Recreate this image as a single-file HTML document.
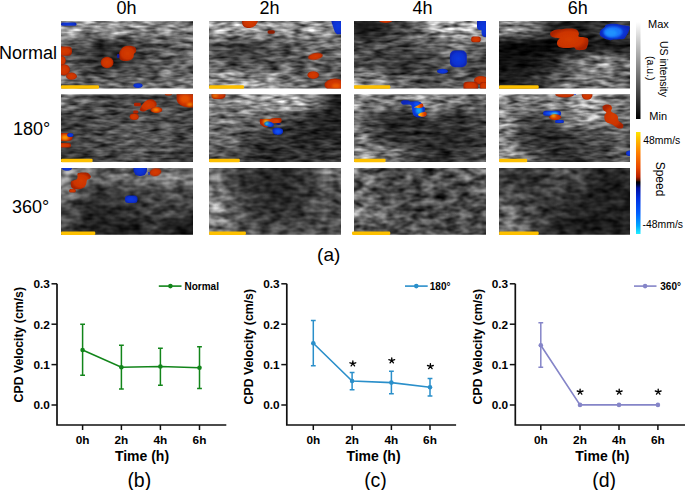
<!DOCTYPE html>
<html><head><meta charset="utf-8"><style>
html,body{margin:0;padding:0;background:#fff;overflow:hidden}
svg{display:block}
text{font-family:"Liberation Sans",sans-serif;fill:#000}
</style></head><body>
<svg width="685" height="490" viewBox="0 0 685 490">
<defs>
<clipPath id="cp00"><rect x="61" y="21" width="132" height="67.4"/></clipPath>
<filter id="np00" x="61" y="21" width="132" height="67.4" filterUnits="userSpaceOnUse" color-interpolation-filters="sRGB">
<feTurbulence type="fractalNoise" baseFrequency="0.075 0.25" numOctaves="2" seed="3" result="t"/>
<feColorMatrix in="t" type="matrix" values="1 0 0 0 0 1 0 0 0 0 1 0 0 0 0 0 0 0 0 1" result="g"/>
<feGaussianBlur in="SourceGraphic" stdDeviation="4.5" result="s"/>
<feComposite in="s" in2="g" operator="arithmetic" k1="1.8" k2="0.09999999999999998" k3="0.15" k4="-0.075"/>
</filter>
<clipPath id="cp01"><rect x="209" y="21" width="132" height="67.4"/></clipPath>
<filter id="np01" x="209" y="21" width="132" height="67.4" filterUnits="userSpaceOnUse" color-interpolation-filters="sRGB">
<feTurbulence type="fractalNoise" baseFrequency="0.075 0.25" numOctaves="2" seed="10" result="t"/>
<feColorMatrix in="t" type="matrix" values="1 0 0 0 0 1 0 0 0 0 1 0 0 0 0 0 0 0 0 1" result="g"/>
<feGaussianBlur in="SourceGraphic" stdDeviation="4.5" result="s"/>
<feComposite in="s" in2="g" operator="arithmetic" k1="1.8" k2="0.09999999999999998" k3="0.15" k4="-0.075"/>
</filter>
<clipPath id="cp02"><rect x="354" y="21" width="132" height="67.4"/></clipPath>
<filter id="np02" x="354" y="21" width="132" height="67.4" filterUnits="userSpaceOnUse" color-interpolation-filters="sRGB">
<feTurbulence type="fractalNoise" baseFrequency="0.075 0.25" numOctaves="2" seed="17" result="t"/>
<feColorMatrix in="t" type="matrix" values="1 0 0 0 0 1 0 0 0 0 1 0 0 0 0 0 0 0 0 1" result="g"/>
<feGaussianBlur in="SourceGraphic" stdDeviation="4.5" result="s"/>
<feComposite in="s" in2="g" operator="arithmetic" k1="1.8" k2="0.09999999999999998" k3="0.15" k4="-0.075"/>
</filter>
<clipPath id="cp03"><rect x="499" y="21" width="131" height="67.4"/></clipPath>
<filter id="np03" x="499" y="21" width="131" height="67.4" filterUnits="userSpaceOnUse" color-interpolation-filters="sRGB">
<feTurbulence type="fractalNoise" baseFrequency="0.075 0.25" numOctaves="2" seed="24" result="t"/>
<feColorMatrix in="t" type="matrix" values="1 0 0 0 0 1 0 0 0 0 1 0 0 0 0 0 0 0 0 1" result="g"/>
<feGaussianBlur in="SourceGraphic" stdDeviation="4.5" result="s"/>
<feComposite in="s" in2="g" operator="arithmetic" k1="1.8" k2="0.09999999999999998" k3="0.15" k4="-0.075"/>
</filter>
<clipPath id="cp10"><rect x="61" y="94.2" width="132" height="67.8"/></clipPath>
<filter id="np10" x="61" y="94.2" width="132" height="67.8" filterUnits="userSpaceOnUse" color-interpolation-filters="sRGB">
<feTurbulence type="fractalNoise" baseFrequency="0.075 0.25" numOctaves="2" seed="31" result="t"/>
<feColorMatrix in="t" type="matrix" values="1 0 0 0 0 1 0 0 0 0 1 0 0 0 0 0 0 0 0 1" result="g"/>
<feGaussianBlur in="SourceGraphic" stdDeviation="4.5" result="s"/>
<feComposite in="s" in2="g" operator="arithmetic" k1="1.8" k2="0.09999999999999998" k3="0.15" k4="-0.075"/>
</filter>
<clipPath id="cp11"><rect x="209" y="94.2" width="132" height="67.8"/></clipPath>
<filter id="np11" x="209" y="94.2" width="132" height="67.8" filterUnits="userSpaceOnUse" color-interpolation-filters="sRGB">
<feTurbulence type="fractalNoise" baseFrequency="0.075 0.25" numOctaves="2" seed="38" result="t"/>
<feColorMatrix in="t" type="matrix" values="1 0 0 0 0 1 0 0 0 0 1 0 0 0 0 0 0 0 0 1" result="g"/>
<feGaussianBlur in="SourceGraphic" stdDeviation="4.5" result="s"/>
<feComposite in="s" in2="g" operator="arithmetic" k1="1.8" k2="0.09999999999999998" k3="0.15" k4="-0.075"/>
</filter>
<clipPath id="cp12"><rect x="354" y="94.2" width="132" height="67.8"/></clipPath>
<filter id="np12" x="354" y="94.2" width="132" height="67.8" filterUnits="userSpaceOnUse" color-interpolation-filters="sRGB">
<feTurbulence type="fractalNoise" baseFrequency="0.075 0.25" numOctaves="2" seed="45" result="t"/>
<feColorMatrix in="t" type="matrix" values="1 0 0 0 0 1 0 0 0 0 1 0 0 0 0 0 0 0 0 1" result="g"/>
<feGaussianBlur in="SourceGraphic" stdDeviation="4.5" result="s"/>
<feComposite in="s" in2="g" operator="arithmetic" k1="1.8" k2="0.09999999999999998" k3="0.15" k4="-0.075"/>
</filter>
<clipPath id="cp13"><rect x="499" y="94.2" width="131" height="67.8"/></clipPath>
<filter id="np13" x="499" y="94.2" width="131" height="67.8" filterUnits="userSpaceOnUse" color-interpolation-filters="sRGB">
<feTurbulence type="fractalNoise" baseFrequency="0.075 0.25" numOctaves="2" seed="52" result="t"/>
<feColorMatrix in="t" type="matrix" values="1 0 0 0 0 1 0 0 0 0 1 0 0 0 0 0 0 0 0 1" result="g"/>
<feGaussianBlur in="SourceGraphic" stdDeviation="4.5" result="s"/>
<feComposite in="s" in2="g" operator="arithmetic" k1="1.8" k2="0.09999999999999998" k3="0.15" k4="-0.075"/>
</filter>
<clipPath id="cp20"><rect x="61" y="168" width="132" height="66.69999999999999"/></clipPath>
<filter id="np20" x="61" y="168" width="132" height="66.69999999999999" filterUnits="userSpaceOnUse" color-interpolation-filters="sRGB">
<feTurbulence type="fractalNoise" baseFrequency="0.085 0.16" numOctaves="2" seed="59" result="t"/>
<feColorMatrix in="t" type="matrix" values="1 0 0 0 0 1 0 0 0 0 1 0 0 0 0 0 0 0 0 1" result="g"/>
<feGaussianBlur in="SourceGraphic" stdDeviation="4.5" result="s"/>
<feComposite in="s" in2="g" operator="arithmetic" k1="1.5" k2="0.25" k3="0.15" k4="-0.075"/>
</filter>
<clipPath id="cp21"><rect x="209" y="168" width="132" height="66.69999999999999"/></clipPath>
<filter id="np21" x="209" y="168" width="132" height="66.69999999999999" filterUnits="userSpaceOnUse" color-interpolation-filters="sRGB">
<feTurbulence type="fractalNoise" baseFrequency="0.085 0.16" numOctaves="2" seed="101" result="t"/>
<feColorMatrix in="t" type="matrix" values="1 0 0 0 0 1 0 0 0 0 1 0 0 0 0 0 0 0 0 1" result="g"/>
<feGaussianBlur in="SourceGraphic" stdDeviation="4.5" result="s"/>
<feComposite in="s" in2="g" operator="arithmetic" k1="1.5" k2="0.25" k3="0.15" k4="-0.075"/>
</filter>
<clipPath id="cp22"><rect x="354" y="168" width="132" height="66.69999999999999"/></clipPath>
<filter id="np22" x="354" y="168" width="132" height="66.69999999999999" filterUnits="userSpaceOnUse" color-interpolation-filters="sRGB">
<feTurbulence type="fractalNoise" baseFrequency="0.085 0.16" numOctaves="2" seed="73" result="t"/>
<feColorMatrix in="t" type="matrix" values="1 0 0 0 0 1 0 0 0 0 1 0 0 0 0 0 0 0 0 1" result="g"/>
<feGaussianBlur in="SourceGraphic" stdDeviation="4.5" result="s"/>
<feComposite in="s" in2="g" operator="arithmetic" k1="2.0" k2="0.0" k3="0.15" k4="-0.075"/>
</filter>
<clipPath id="cp23"><rect x="499" y="168" width="131" height="66.69999999999999"/></clipPath>
<filter id="np23" x="499" y="168" width="131" height="66.69999999999999" filterUnits="userSpaceOnUse" color-interpolation-filters="sRGB">
<feTurbulence type="fractalNoise" baseFrequency="0.085 0.16" numOctaves="2" seed="80" result="t"/>
<feColorMatrix in="t" type="matrix" values="1 0 0 0 0 1 0 0 0 0 1 0 0 0 0 0 0 0 0 1" result="g"/>
<feGaussianBlur in="SourceGraphic" stdDeviation="4.5" result="s"/>
<feComposite in="s" in2="g" operator="arithmetic" k1="1.5" k2="0.25" k3="0.15" k4="-0.075"/>
</filter>
<radialGradient id="gr" cx="50%" cy="50%" r="50%"><stop offset="0" stop-color="#d43c00"/><stop offset="0.7" stop-color="#cc3400"/><stop offset="1" stop-color="#a82400"/></radialGradient>
<radialGradient id="gb" cx="50%" cy="50%" r="50%"><stop offset="0" stop-color="#1a70ff"/><stop offset="0.6" stop-color="#0a48e8"/><stop offset="1" stop-color="#0a28c0"/></radialGradient>
<radialGradient id="go" cx="50%" cy="50%" r="50%"><stop offset="0" stop-color="#ff9000"/><stop offset="0.6" stop-color="#f06000"/><stop offset="1" stop-color="#c03000"/></radialGradient>
<linearGradient id="gyr" x1="0" y1="0" x2="1" y2="0"><stop offset="0" stop-color="#ffd800"/><stop offset="0.35" stop-color="#ff9000"/><stop offset="0.7" stop-color="#e04000"/><stop offset="1" stop-color="#c03000"/></linearGradient>
<radialGradient id="gbd" cx="50%" cy="50%" r="50%"><stop offset="0" stop-color="#0a3ae0"/><stop offset="0.7" stop-color="#0a32d0"/><stop offset="1" stop-color="#0a26b8"/></radialGradient>
<filter id="sb" x="-20%" y="-20%" width="140%" height="140%"><feGaussianBlur stdDeviation="0.7"/></filter>
<filter id="sh" x="-50%" y="-50%" width="200%" height="200%"><feGaussianBlur stdDeviation="1"/></filter>
<linearGradient id="gray" x1="0" y1="0" x2="0" y2="1"><stop offset="0" stop-color="#fff"/><stop offset="1" stop-color="#000"/></linearGradient>
<linearGradient id="spd" x1="0" y1="0" x2="0" y2="1">
<stop offset="0" stop-color="#ffe600"/><stop offset="0.06" stop-color="#ffc400"/><stop offset="0.2" stop-color="#ff8000"/><stop offset="0.35" stop-color="#e84800"/><stop offset="0.44" stop-color="#b82000"/><stop offset="0.475" stop-color="#501000"/><stop offset="0.49" stop-color="#000000"/><stop offset="0.51" stop-color="#000020"/><stop offset="0.55" stop-color="#0010a0"/><stop offset="0.65" stop-color="#0030e0"/><stop offset="0.8" stop-color="#0060ff"/><stop offset="0.92" stop-color="#00a8ff"/><stop offset="1" stop-color="#20f0ff"/></linearGradient>
</defs>
<g clip-path="url(#cp00)">
<g filter="url(#np00)"><rect x="46.00" y="6.00" width="31.80" height="32.15" fill="rgb(154,154,154)"/><rect x="77.50" y="6.00" width="16.80" height="32.15" fill="rgb(147,147,147)"/><rect x="94.00" y="6.00" width="16.80" height="32.15" fill="rgb(140,140,140)"/><rect x="110.50" y="6.00" width="16.80" height="32.15" fill="rgb(147,147,147)"/><rect x="127.00" y="6.00" width="16.80" height="32.15" fill="rgb(140,140,140)"/><rect x="143.50" y="6.00" width="16.80" height="32.15" fill="rgb(134,134,134)"/><rect x="160.00" y="6.00" width="16.80" height="32.15" fill="rgb(127,127,127)"/><rect x="176.50" y="6.00" width="31.80" height="32.15" fill="rgb(121,121,121)"/><rect x="46.00" y="37.85" width="31.80" height="17.15" fill="rgb(94,94,94)"/><rect x="77.50" y="37.85" width="16.80" height="17.15" fill="rgb(68,68,68)"/><rect x="94.00" y="37.85" width="16.80" height="17.15" fill="rgb(48,48,48)"/><rect x="110.50" y="37.85" width="16.80" height="17.15" fill="rgb(41,41,41)"/><rect x="127.00" y="37.85" width="16.80" height="17.15" fill="rgb(55,55,55)"/><rect x="143.50" y="37.85" width="16.80" height="17.15" fill="rgb(74,74,74)"/><rect x="160.00" y="37.85" width="16.80" height="17.15" fill="rgb(94,94,94)"/><rect x="176.50" y="37.85" width="31.80" height="17.15" fill="rgb(101,101,101)"/><rect x="46.00" y="54.70" width="31.80" height="17.15" fill="rgb(88,88,88)"/><rect x="77.50" y="54.70" width="16.80" height="17.15" fill="rgb(61,61,61)"/><rect x="94.00" y="54.70" width="16.80" height="17.15" fill="rgb(41,41,41)"/><rect x="110.50" y="54.70" width="16.80" height="17.15" fill="rgb(41,41,41)"/><rect x="127.00" y="54.70" width="16.80" height="17.15" fill="rgb(61,61,61)"/><rect x="143.50" y="54.70" width="16.80" height="17.15" fill="rgb(81,81,81)"/><rect x="160.00" y="54.70" width="16.80" height="17.15" fill="rgb(94,94,94)"/><rect x="176.50" y="54.70" width="31.80" height="17.15" fill="rgb(101,101,101)"/><rect x="46.00" y="71.55" width="31.80" height="32.15" fill="rgb(107,107,107)"/><rect x="77.50" y="71.55" width="16.80" height="32.15" fill="rgb(94,94,94)"/><rect x="94.00" y="71.55" width="16.80" height="32.15" fill="rgb(88,88,88)"/><rect x="110.50" y="71.55" width="16.80" height="32.15" fill="rgb(94,94,94)"/><rect x="127.00" y="71.55" width="16.80" height="32.15" fill="rgb(101,101,101)"/><rect x="143.50" y="71.55" width="16.80" height="32.15" fill="rgb(101,101,101)"/><rect x="160.00" y="71.55" width="16.80" height="32.15" fill="rgb(107,107,107)"/><rect x="176.50" y="71.55" width="31.80" height="32.15" fill="rgb(107,107,107)"/></g>
<rect x="61" y="22.6" width="15.5" height="3.2" rx="1.5" fill="url(#gbd)" filter="url(#sb)"/>
<rect x="56" y="46.6" width="16" height="9.2" rx="4" fill="url(#gr)" filter="url(#sb)"/>
<ellipse cx="62" cy="60.5" rx="3.8" ry="4.5" fill="url(#gr)" filter="url(#sb)"/>
<ellipse cx="64" cy="69.8" rx="6" ry="5.6" fill="url(#gr)" filter="url(#sb)"/>
<ellipse cx="71.5" cy="76.2" rx="5.4" ry="3.6" fill="url(#gr)" filter="url(#sb)"/>
<path d="M119.70 51.50 C120.13 50.63 120.93 49.42 121.70 48.60 C122.47 47.78 123.32 47.07 124.30 46.60 C125.28 46.13 126.38 45.92 127.60 45.80 C128.82 45.68 130.38 45.67 131.60 45.90 C132.82 46.13 134.13 46.53 134.90 47.20 C135.67 47.87 136.10 49.02 136.20 49.90 C136.30 50.78 135.88 51.80 135.50 52.50 C135.12 53.20 134.22 53.33 133.90 54.10 C133.58 54.87 133.98 56.22 133.60 57.10 C133.22 57.98 132.48 58.80 131.60 59.40 C130.72 60.00 129.62 60.45 128.30 60.70 C126.98 60.95 125.02 61.07 123.70 60.90 C122.38 60.73 121.15 60.33 120.40 59.70 C119.65 59.07 119.42 58.08 119.20 57.10 C118.98 56.12 119.02 54.73 119.10 53.80 C119.18 52.87 119.27 52.37 119.70 51.50 Z" fill="url(#gr)" filter="url(#sb)"/>
<ellipse cx="107.1" cy="62.5" rx="6.4" ry="5.7" fill="url(#gr)" filter="url(#sb)"/>
<rect x="117" y="54.1" width="2.4" height="4" rx="0.8" fill="#0a1aa0" filter="url(#sb)"/>
<ellipse cx="138" cy="85.6" rx="4.6" ry="2.4" fill="url(#gbd)" filter="url(#sb)"/>
</g>
<rect x="61" y="85.2" width="38" height="3.5" rx="1.2" fill="#fdc000"/>
<g clip-path="url(#cp01)">
<g filter="url(#np01)"><rect x="194.00" y="6.00" width="31.80" height="32.15" fill="rgb(154,154,154)"/><rect x="225.50" y="6.00" width="16.80" height="32.15" fill="rgb(167,167,167)"/><rect x="242.00" y="6.00" width="16.80" height="32.15" fill="rgb(154,154,154)"/><rect x="258.50" y="6.00" width="16.80" height="32.15" fill="rgb(140,140,140)"/><rect x="275.00" y="6.00" width="16.80" height="32.15" fill="rgb(140,140,140)"/><rect x="291.50" y="6.00" width="16.80" height="32.15" fill="rgb(154,154,154)"/><rect x="308.00" y="6.00" width="16.80" height="32.15" fill="rgb(154,154,154)"/><rect x="324.50" y="6.00" width="31.80" height="32.15" fill="rgb(140,140,140)"/><rect x="194.00" y="37.85" width="31.80" height="17.15" fill="rgb(88,88,88)"/><rect x="225.50" y="37.85" width="16.80" height="17.15" fill="rgb(61,61,61)"/><rect x="242.00" y="37.85" width="16.80" height="17.15" fill="rgb(55,55,55)"/><rect x="258.50" y="37.85" width="16.80" height="17.15" fill="rgb(68,68,68)"/><rect x="275.00" y="37.85" width="16.80" height="17.15" fill="rgb(88,88,88)"/><rect x="291.50" y="37.85" width="16.80" height="17.15" fill="rgb(101,101,101)"/><rect x="308.00" y="37.85" width="16.80" height="17.15" fill="rgb(101,101,101)"/><rect x="324.50" y="37.85" width="31.80" height="17.15" fill="rgb(101,101,101)"/><rect x="194.00" y="54.70" width="31.80" height="17.15" fill="rgb(94,94,94)"/><rect x="225.50" y="54.70" width="16.80" height="17.15" fill="rgb(74,74,74)"/><rect x="242.00" y="54.70" width="16.80" height="17.15" fill="rgb(74,74,74)"/><rect x="258.50" y="54.70" width="16.80" height="17.15" fill="rgb(81,81,81)"/><rect x="275.00" y="54.70" width="16.80" height="17.15" fill="rgb(88,88,88)"/><rect x="291.50" y="54.70" width="16.80" height="17.15" fill="rgb(88,88,88)"/><rect x="308.00" y="54.70" width="16.80" height="17.15" fill="rgb(94,94,94)"/><rect x="324.50" y="54.70" width="31.80" height="17.15" fill="rgb(94,94,94)"/><rect x="194.00" y="71.55" width="31.80" height="32.15" fill="rgb(154,154,154)"/><rect x="225.50" y="71.55" width="16.80" height="32.15" fill="rgb(154,154,154)"/><rect x="242.00" y="71.55" width="16.80" height="32.15" fill="rgb(160,160,160)"/><rect x="258.50" y="71.55" width="16.80" height="32.15" fill="rgb(140,140,140)"/><rect x="275.00" y="71.55" width="16.80" height="32.15" fill="rgb(127,127,127)"/><rect x="291.50" y="71.55" width="16.80" height="32.15" fill="rgb(107,107,107)"/><rect x="308.00" y="71.55" width="16.80" height="32.15" fill="rgb(94,94,94)"/><rect x="324.50" y="71.55" width="31.80" height="32.15" fill="rgb(94,94,94)"/></g>
<path d="M242 18 L258 18 L258 21 Q256 27 250 28 L247 28 Q242 27 242 22 Z" fill="url(#gr)" filter="url(#sb)"/>
<rect x="267.5" y="30.2" width="7.4" height="3.5" rx="1.7" fill="#8a1c00" filter="url(#sb)"/>
<path d="M331.5 18 L345 18 L345 34.3 L337 34.3 Q334.5 33 333.8 29 L331.5 22 Z" fill="url(#gbd)" filter="url(#sb)"/>
<ellipse cx="315.4" cy="56.4" rx="7.4" ry="3.3" fill="url(#gr)" transform="rotate(-10 315.4 56.4)" filter="url(#sb)"/>
<ellipse cx="313.2" cy="75.1" rx="5.8" ry="3.9" fill="url(#gr)" filter="url(#sb)"/>
<ellipse cx="335" cy="85" rx="10.5" ry="6.5" fill="url(#gr)" filter="url(#sb)"/>
<ellipse cx="336" cy="86" rx="4" ry="2.5" fill="#f06000" opacity="0.8" filter="url(#sh)"/>
</g>
<rect x="209" y="85.2" width="35" height="3.5" rx="1.2" fill="#fdc000"/>
<g clip-path="url(#cp02)">
<g filter="url(#np02)"><rect x="339.00" y="6.00" width="31.80" height="32.15" fill="rgb(28,28,28)"/><rect x="370.50" y="6.00" width="16.80" height="32.15" fill="rgb(35,35,35)"/><rect x="387.00" y="6.00" width="16.80" height="32.15" fill="rgb(61,61,61)"/><rect x="403.50" y="6.00" width="16.80" height="32.15" fill="rgb(94,94,94)"/><rect x="420.00" y="6.00" width="16.80" height="32.15" fill="rgb(134,134,134)"/><rect x="436.50" y="6.00" width="16.80" height="32.15" fill="rgb(167,167,167)"/><rect x="453.00" y="6.00" width="16.80" height="32.15" fill="rgb(180,180,180)"/><rect x="469.50" y="6.00" width="31.80" height="32.15" fill="rgb(154,154,154)"/><rect x="339.00" y="37.85" width="31.80" height="17.15" fill="rgb(74,74,74)"/><rect x="370.50" y="37.85" width="16.80" height="17.15" fill="rgb(74,74,74)"/><rect x="387.00" y="37.85" width="16.80" height="17.15" fill="rgb(74,74,74)"/><rect x="403.50" y="37.85" width="16.80" height="17.15" fill="rgb(81,81,81)"/><rect x="420.00" y="37.85" width="16.80" height="17.15" fill="rgb(88,88,88)"/><rect x="436.50" y="37.85" width="16.80" height="17.15" fill="rgb(101,101,101)"/><rect x="453.00" y="37.85" width="16.80" height="17.15" fill="rgb(114,114,114)"/><rect x="469.50" y="37.85" width="31.80" height="17.15" fill="rgb(101,101,101)"/><rect x="339.00" y="54.70" width="31.80" height="17.15" fill="rgb(74,74,74)"/><rect x="370.50" y="54.70" width="16.80" height="17.15" fill="rgb(61,61,61)"/><rect x="387.00" y="54.70" width="16.80" height="17.15" fill="rgb(48,48,48)"/><rect x="403.50" y="54.70" width="16.80" height="17.15" fill="rgb(48,48,48)"/><rect x="420.00" y="54.70" width="16.80" height="17.15" fill="rgb(61,61,61)"/><rect x="436.50" y="54.70" width="16.80" height="17.15" fill="rgb(74,74,74)"/><rect x="453.00" y="54.70" width="16.80" height="17.15" fill="rgb(88,88,88)"/><rect x="469.50" y="54.70" width="31.80" height="17.15" fill="rgb(74,74,74)"/><rect x="339.00" y="71.55" width="31.80" height="32.15" fill="rgb(140,140,140)"/><rect x="370.50" y="71.55" width="16.80" height="32.15" fill="rgb(127,127,127)"/><rect x="387.00" y="71.55" width="16.80" height="32.15" fill="rgb(101,101,101)"/><rect x="403.50" y="71.55" width="16.80" height="32.15" fill="rgb(88,88,88)"/><rect x="420.00" y="71.55" width="16.80" height="32.15" fill="rgb(74,74,74)"/><rect x="436.50" y="71.55" width="16.80" height="32.15" fill="rgb(88,88,88)"/><rect x="453.00" y="71.55" width="16.80" height="32.15" fill="rgb(88,88,88)"/><rect x="469.50" y="71.55" width="31.80" height="32.15" fill="rgb(74,74,74)"/></g>
<ellipse cx="385.7" cy="20.5" rx="6.7" ry="2.5" fill="url(#gr)" filter="url(#sb)"/>
<path d="M477 18 L490 18 L490 37 L484 37 Q481.5 36 481.5 32 L481.5 30 L479 30 Q477 29.5 477 27 Z" fill="url(#gbd)" filter="url(#sb)"/>
<rect x="471.2" y="36.4" width="9.5" height="5.9" rx="2" fill="url(#gr)" filter="url(#sb)"/>
<rect x="449.9" y="50.6" width="16.9" height="16.7" rx="5" fill="url(#gbd)" filter="url(#sb)"/>
<ellipse cx="442.5" cy="71.2" rx="5.4" ry="2.5" fill="url(#gbd)" filter="url(#sb)"/>
<ellipse cx="481" cy="80.2" rx="7" ry="4.2" fill="url(#gr)" filter="url(#sb)"/>
<path d="M463.5 88 L463.5 84 Q464 81.7 467 81.7 L476 81.7 Q478 82 478 85 L478 90 L463.5 90 Z" fill="url(#gr)" filter="url(#sb)"/>
<rect x="480" y="82" width="8" height="8" rx="2" fill="url(#gr)" filter="url(#sb)"/>
</g>
<rect x="354" y="85.2" width="36.30000000000001" height="3.5" rx="1.2" fill="#fdc000"/>
<g clip-path="url(#cp03)">
<g filter="url(#np03)"><rect x="484.00" y="6.00" width="31.68" height="32.15" fill="rgb(140,140,140)"/><rect x="515.38" y="6.00" width="16.68" height="32.15" fill="rgb(127,127,127)"/><rect x="531.75" y="6.00" width="16.68" height="32.15" fill="rgb(81,81,81)"/><rect x="548.12" y="6.00" width="16.68" height="32.15" fill="rgb(41,41,41)"/><rect x="564.50" y="6.00" width="16.68" height="32.15" fill="rgb(28,28,28)"/><rect x="580.88" y="6.00" width="16.68" height="32.15" fill="rgb(35,35,35)"/><rect x="597.25" y="6.00" width="16.68" height="32.15" fill="rgb(68,68,68)"/><rect x="613.62" y="6.00" width="31.68" height="32.15" fill="rgb(61,61,61)"/><rect x="484.00" y="37.85" width="31.68" height="17.15" fill="rgb(8,8,8)"/><rect x="515.38" y="37.85" width="16.68" height="17.15" fill="rgb(8,8,8)"/><rect x="531.75" y="37.85" width="16.68" height="17.15" fill="rgb(2,2,2)"/><rect x="548.12" y="37.85" width="16.68" height="17.15" fill="rgb(8,8,8)"/><rect x="564.50" y="37.85" width="16.68" height="17.15" fill="rgb(15,15,15)"/><rect x="580.88" y="37.85" width="16.68" height="17.15" fill="rgb(22,22,22)"/><rect x="597.25" y="37.85" width="16.68" height="17.15" fill="rgb(28,28,28)"/><rect x="613.62" y="37.85" width="31.68" height="17.15" fill="rgb(28,28,28)"/><rect x="484.00" y="54.70" width="31.68" height="17.15" fill="rgb(15,15,15)"/><rect x="515.38" y="54.70" width="16.68" height="17.15" fill="rgb(15,15,15)"/><rect x="531.75" y="54.70" width="16.68" height="17.15" fill="rgb(28,28,28)"/><rect x="548.12" y="54.70" width="16.68" height="17.15" fill="rgb(55,55,55)"/><rect x="564.50" y="54.70" width="16.68" height="17.15" fill="rgb(88,88,88)"/><rect x="580.88" y="54.70" width="16.68" height="17.15" fill="rgb(127,127,127)"/><rect x="597.25" y="54.70" width="16.68" height="17.15" fill="rgb(140,140,140)"/><rect x="613.62" y="54.70" width="31.68" height="17.15" fill="rgb(114,114,114)"/><rect x="484.00" y="71.55" width="31.68" height="32.15" fill="rgb(28,28,28)"/><rect x="515.38" y="71.55" width="16.68" height="32.15" fill="rgb(35,35,35)"/><rect x="531.75" y="71.55" width="16.68" height="32.15" fill="rgb(55,55,55)"/><rect x="548.12" y="71.55" width="16.68" height="32.15" fill="rgb(81,81,81)"/><rect x="564.50" y="71.55" width="16.68" height="32.15" fill="rgb(107,107,107)"/><rect x="580.88" y="71.55" width="16.68" height="32.15" fill="rgb(121,121,121)"/><rect x="597.25" y="71.55" width="16.68" height="32.15" fill="rgb(114,114,114)"/><rect x="613.62" y="71.55" width="31.68" height="32.15" fill="rgb(94,94,94)"/></g>
<path d="M550.11 33.68 C550.11 32.83 550.60 32.16 551.57 31.49 C552.54 30.82 554.00 30.09 555.95 29.66 C557.90 29.24 561.06 29.12 563.25 28.93 C565.44 28.75 567.14 28.57 569.09 28.57 C571.03 28.57 573.47 28.57 574.93 28.93 C576.39 29.30 577.18 29.97 577.85 30.76 C578.52 31.55 578.82 32.71 578.94 33.68 C579.06 34.65 577.91 36.05 578.58 36.60 C579.25 37.15 581.50 36.72 582.96 36.96 C584.42 37.21 586.42 37.39 587.34 38.06 C588.25 38.73 588.37 39.76 588.43 40.98 C588.49 42.19 588.13 44.02 587.70 45.36 C587.27 46.70 586.91 48.22 585.88 49.01 C584.84 49.80 583.08 49.98 581.50 50.10 C579.91 50.22 577.60 50.16 576.39 49.74 C575.17 49.31 575.41 47.85 574.20 47.55 C572.98 47.24 570.91 47.85 569.09 47.91 C567.26 47.97 564.95 48.09 563.25 47.91 C561.55 47.73 559.90 47.49 558.87 46.82 C557.83 46.15 557.23 44.99 557.04 43.90 C556.86 42.80 557.35 41.16 557.77 40.25 C558.20 39.34 560.02 38.85 559.60 38.42 C559.17 38.00 556.56 38.00 555.22 37.69 C553.88 37.39 552.42 37.27 551.57 36.60 C550.72 35.93 550.11 34.53 550.11 33.68 Z" fill="url(#gr)" filter="url(#sb)"/>
<path d="M599.68 32.87 C599.82 31.99 600.07 30.82 600.85 29.94 C601.63 29.06 603.58 28.38 604.36 27.60 C605.14 26.82 604.75 25.85 605.53 25.26 C606.31 24.68 607.57 24.34 609.04 24.09 C610.50 23.85 612.45 23.70 614.30 23.80 C616.15 23.90 618.29 24.39 620.15 24.68 C622.00 24.97 623.85 25.26 625.41 25.56 C626.97 25.85 628.87 25.70 629.50 26.43 C630.14 27.16 629.50 28.77 629.21 29.94 C628.92 31.11 628.28 32.38 627.75 33.45 C627.21 34.52 626.58 35.50 625.99 36.37 C625.41 37.25 625.31 38.23 624.24 38.71 C623.17 39.20 621.22 39.15 619.56 39.30 C617.90 39.44 615.86 39.44 614.30 39.59 C612.74 39.74 611.57 40.22 610.20 40.18 C608.84 40.13 607.48 39.83 606.11 39.30 C604.75 38.76 603.04 37.64 602.02 36.96 C600.99 36.28 600.36 35.89 599.97 35.20 C599.58 34.52 599.53 33.74 599.68 32.87 Z" fill="url(#gbd)" filter="url(#sb)"/>
<ellipse cx="613" cy="32" rx="9.5" ry="5.5" fill="#1a80ff" opacity="0.9" filter="url(#sh)"/>
<ellipse cx="611" cy="33" rx="6" ry="3.5" fill="#2098ff" opacity="0.8" filter="url(#sh)"/>
</g>
<rect x="499" y="85.2" width="39.700000000000045" height="3.5" rx="1.2" fill="#fdc000"/>
<g clip-path="url(#cp10)">
<g filter="url(#np10)"><rect x="46.00" y="79.20" width="31.80" height="32.25" fill="rgb(114,114,114)"/><rect x="77.50" y="79.20" width="16.80" height="32.25" fill="rgb(88,88,88)"/><rect x="94.00" y="79.20" width="16.80" height="32.25" fill="rgb(68,68,68)"/><rect x="110.50" y="79.20" width="16.80" height="32.25" fill="rgb(68,68,68)"/><rect x="127.00" y="79.20" width="16.80" height="32.25" fill="rgb(74,74,74)"/><rect x="143.50" y="79.20" width="16.80" height="32.25" fill="rgb(81,81,81)"/><rect x="160.00" y="79.20" width="16.80" height="32.25" fill="rgb(74,74,74)"/><rect x="176.50" y="79.20" width="31.80" height="32.25" fill="rgb(74,74,74)"/><rect x="46.00" y="111.15" width="31.80" height="17.25" fill="rgb(61,61,61)"/><rect x="77.50" y="111.15" width="16.80" height="17.25" fill="rgb(68,68,68)"/><rect x="94.00" y="111.15" width="16.80" height="17.25" fill="rgb(74,74,74)"/><rect x="110.50" y="111.15" width="16.80" height="17.25" fill="rgb(81,81,81)"/><rect x="127.00" y="111.15" width="16.80" height="17.25" fill="rgb(81,81,81)"/><rect x="143.50" y="111.15" width="16.80" height="17.25" fill="rgb(81,81,81)"/><rect x="160.00" y="111.15" width="16.80" height="17.25" fill="rgb(74,74,74)"/><rect x="176.50" y="111.15" width="31.80" height="17.25" fill="rgb(74,74,74)"/><rect x="46.00" y="128.10" width="31.80" height="17.25" fill="rgb(68,68,68)"/><rect x="77.50" y="128.10" width="16.80" height="17.25" fill="rgb(74,74,74)"/><rect x="94.00" y="128.10" width="16.80" height="17.25" fill="rgb(74,74,74)"/><rect x="110.50" y="128.10" width="16.80" height="17.25" fill="rgb(81,81,81)"/><rect x="127.00" y="128.10" width="16.80" height="17.25" fill="rgb(88,88,88)"/><rect x="143.50" y="128.10" width="16.80" height="17.25" fill="rgb(88,88,88)"/><rect x="160.00" y="128.10" width="16.80" height="17.25" fill="rgb(81,81,81)"/><rect x="176.50" y="128.10" width="31.80" height="17.25" fill="rgb(74,74,74)"/><rect x="46.00" y="145.05" width="31.80" height="32.25" fill="rgb(61,61,61)"/><rect x="77.50" y="145.05" width="16.80" height="32.25" fill="rgb(61,61,61)"/><rect x="94.00" y="145.05" width="16.80" height="32.25" fill="rgb(68,68,68)"/><rect x="110.50" y="145.05" width="16.80" height="32.25" fill="rgb(74,74,74)"/><rect x="127.00" y="145.05" width="16.80" height="32.25" fill="rgb(81,81,81)"/><rect x="143.50" y="145.05" width="16.80" height="32.25" fill="rgb(74,74,74)"/><rect x="160.00" y="145.05" width="16.80" height="32.25" fill="rgb(68,68,68)"/><rect x="176.50" y="145.05" width="31.80" height="32.25" fill="rgb(61,61,61)"/></g>
<path d="M176.6 90 L196 90 L196 107.5 L188 107.5 Q178 106 176.6 100 Z" fill="url(#gr)" filter="url(#sb)"/>
<ellipse cx="190" cy="104.5" rx="3" ry="1.8" fill="#ff9800" opacity="0.8" filter="url(#sh)"/>
<ellipse cx="185" cy="99" rx="5" ry="4" fill="#f06000" opacity="0.6" filter="url(#sh)"/>
<ellipse cx="168.4" cy="94" rx="3.6" ry="1.7" fill="url(#gr)" filter="url(#sb)"/>
<path d="M139.81 109.88 C139.64 109.02 140.66 107.49 141.34 106.30 C142.02 105.11 142.96 103.75 143.90 102.73 C144.83 101.70 145.85 100.73 146.96 100.17 C148.07 99.61 149.34 99.35 150.54 99.35 C151.73 99.35 153.18 99.69 154.11 100.17 C155.05 100.65 155.73 101.36 156.15 102.21 C156.58 103.07 156.92 104.43 156.66 105.28 C156.41 106.13 155.47 106.81 154.62 107.32 C153.77 107.83 152.58 108.00 151.56 108.34 C150.54 108.68 149.51 108.94 148.49 109.36 C147.47 109.79 146.45 110.56 145.43 110.90 C144.41 111.24 143.30 111.58 142.36 111.41 C141.43 111.24 139.98 110.73 139.81 109.88 Z" fill="url(#gr)" filter="url(#sb)"/>
<ellipse cx="156.4" cy="109.9" rx="5.9" ry="3.1" fill="url(#gr)" filter="url(#sb)"/>
<ellipse cx="156" cy="109.8" rx="3" ry="1.5" fill="#ffa000" opacity="0.9" filter="url(#sh)"/>
<rect x="134" y="102.7" width="6.8" height="3.6" rx="1.2" fill="#b02400" filter="url(#sb)"/>
<rect x="133.2" y="110.4" width="5.1" height="3.1" rx="1.2" fill="#b02400" filter="url(#sb)"/>
<ellipse cx="134.2" cy="116.8" rx="4.6" ry="3.3" fill="url(#gr)" filter="url(#sb)"/>
<path d="M58 133 L68 133 Q72.7 134 72.7 137 Q72.7 141 68 141 L58 141 Z" fill="url(#gr)" filter="url(#sb)"/>
<ellipse cx="65" cy="137.5" rx="3.5" ry="2.5" fill="#ffa000" opacity="0.9" filter="url(#sh)"/>
<ellipse cx="70.3" cy="135.1" rx="3.2" ry="2" fill="url(#gbd)" filter="url(#sb)"/>
<rect x="56" y="143.1" width="15" height="4.5" rx="2.2" fill="url(#gr)" filter="url(#sb)"/>
</g>
<rect x="61" y="158.8" width="31.599999999999994" height="3.5" rx="1.2" fill="#fdc000"/>
<g clip-path="url(#cp11)">
<g filter="url(#np11)"><rect x="194.00" y="79.20" width="31.80" height="32.25" fill="rgb(121,121,121)"/><rect x="225.50" y="79.20" width="16.80" height="32.25" fill="rgb(134,134,134)"/><rect x="242.00" y="79.20" width="16.80" height="32.25" fill="rgb(154,154,154)"/><rect x="258.50" y="79.20" width="16.80" height="32.25" fill="rgb(160,160,160)"/><rect x="275.00" y="79.20" width="16.80" height="32.25" fill="rgb(167,167,167)"/><rect x="291.50" y="79.20" width="16.80" height="32.25" fill="rgb(154,154,154)"/><rect x="308.00" y="79.20" width="16.80" height="32.25" fill="rgb(107,107,107)"/><rect x="324.50" y="79.20" width="31.80" height="32.25" fill="rgb(35,35,35)"/><rect x="194.00" y="111.15" width="31.80" height="17.25" fill="rgb(121,121,121)"/><rect x="225.50" y="111.15" width="16.80" height="17.25" fill="rgb(114,114,114)"/><rect x="242.00" y="111.15" width="16.80" height="17.25" fill="rgb(101,101,101)"/><rect x="258.50" y="111.15" width="16.80" height="17.25" fill="rgb(88,88,88)"/><rect x="275.00" y="111.15" width="16.80" height="17.25" fill="rgb(68,68,68)"/><rect x="291.50" y="111.15" width="16.80" height="17.25" fill="rgb(55,55,55)"/><rect x="308.00" y="111.15" width="16.80" height="17.25" fill="rgb(41,41,41)"/><rect x="324.50" y="111.15" width="31.80" height="17.25" fill="rgb(35,35,35)"/><rect x="194.00" y="128.10" width="31.80" height="17.25" fill="rgb(107,107,107)"/><rect x="225.50" y="128.10" width="16.80" height="17.25" fill="rgb(94,94,94)"/><rect x="242.00" y="128.10" width="16.80" height="17.25" fill="rgb(68,68,68)"/><rect x="258.50" y="128.10" width="16.80" height="17.25" fill="rgb(55,55,55)"/><rect x="275.00" y="128.10" width="16.80" height="17.25" fill="rgb(48,48,48)"/><rect x="291.50" y="128.10" width="16.80" height="17.25" fill="rgb(41,41,41)"/><rect x="308.00" y="128.10" width="16.80" height="17.25" fill="rgb(35,35,35)"/><rect x="324.50" y="128.10" width="31.80" height="17.25" fill="rgb(35,35,35)"/><rect x="194.00" y="145.05" width="31.80" height="32.25" fill="rgb(94,94,94)"/><rect x="225.50" y="145.05" width="16.80" height="32.25" fill="rgb(81,81,81)"/><rect x="242.00" y="145.05" width="16.80" height="32.25" fill="rgb(55,55,55)"/><rect x="258.50" y="145.05" width="16.80" height="32.25" fill="rgb(41,41,41)"/><rect x="275.00" y="145.05" width="16.80" height="32.25" fill="rgb(41,41,41)"/><rect x="291.50" y="145.05" width="16.80" height="32.25" fill="rgb(48,48,48)"/><rect x="308.00" y="145.05" width="16.80" height="32.25" fill="rgb(48,48,48)"/><rect x="324.50" y="145.05" width="31.80" height="32.25" fill="rgb(55,55,55)"/></g>
<path d="M211.5 90 L225.5 90 L225.5 96 Q224.5 99 221 99 L214 99 Q211.5 98.5 211.5 96 Z" fill="url(#gr)" filter="url(#sb)"/>
<ellipse cx="215" cy="95.5" rx="3" ry="2" fill="#f08000" opacity="0.8" filter="url(#sh)"/>
<path d="M259.90 119.70 C260.03 119.15 259.80 119.13 260.70 119.00 C261.60 118.87 263.77 118.88 265.30 118.90 C266.83 118.92 268.75 119.20 269.90 119.10 C271.05 119.00 271.07 118.48 272.20 118.30 C273.33 118.12 275.28 118.00 276.70 118.00 C278.12 118.00 279.88 117.87 280.70 118.30 C281.52 118.73 281.60 119.88 281.60 120.60 C281.60 121.32 281.52 122.18 280.70 122.60 C279.88 123.02 277.93 123.05 276.70 123.10 C275.47 123.15 274.15 122.85 273.30 122.90 C272.45 122.95 272.37 122.83 271.60 123.40 C270.83 123.97 269.57 125.67 268.70 126.30 C267.83 126.93 267.17 127.08 266.40 127.20 C265.63 127.32 264.77 127.25 264.10 127.00 C263.43 126.75 263.02 126.15 262.40 125.70 C261.78 125.25 260.82 124.87 260.40 124.30 C259.98 123.73 259.98 123.07 259.90 122.30 C259.82 121.53 259.77 120.25 259.90 119.70 Z" fill="url(#gr)" filter="url(#sb)"/>
<ellipse cx="266" cy="121.3" rx="2.8" ry="1.8" fill="#ffb000" opacity="0.95" filter="url(#sh)"/>
<ellipse cx="277" cy="120.5" rx="3" ry="1.5" fill="#e05000" opacity="0.6" filter="url(#sh)"/>
<path d="M264.40 123.10 C264.65 122.67 265.18 121.98 265.90 121.70 C266.62 121.42 267.85 121.35 268.70 121.40 C269.55 121.45 270.33 121.72 271.00 122.00 C271.67 122.28 272.22 122.62 272.70 123.10 C273.18 123.58 273.90 124.32 273.90 124.90 C273.90 125.48 273.28 126.25 272.70 126.60 C272.12 126.95 271.25 127.05 270.40 127.00 C269.55 126.95 268.45 126.57 267.60 126.30 C266.75 126.03 265.83 125.73 265.30 125.40 C264.77 125.07 264.55 124.68 264.40 124.30 C264.25 123.92 264.15 123.53 264.40 123.10 Z" fill="url(#gbd)" filter="url(#sb)"/>
<ellipse cx="266.8" cy="123.6" rx="2" ry="1.6" fill="#40ffd0" opacity="1" filter="url(#sh)"/>
<ellipse cx="270" cy="124.5" rx="2" ry="1.5" fill="#1070ff" opacity="0.8" filter="url(#sh)"/>
<ellipse cx="278.5" cy="124" rx="2.3" ry="1" fill="#0a1880" filter="url(#sb)"/>
<path d="M272.70 129.20 C273.08 128.53 273.85 128.20 275.00 128.00 C276.15 127.80 278.37 127.80 279.60 128.00 C280.83 128.20 281.83 128.53 282.40 129.20 C282.97 129.87 283.18 131.15 283.00 132.00 C282.82 132.85 282.15 133.82 281.30 134.30 C280.45 134.78 279.05 134.90 277.90 134.90 C276.75 134.90 275.27 134.78 274.40 134.30 C273.53 133.82 272.98 132.85 272.70 132.00 C272.42 131.15 272.32 129.87 272.70 129.20 Z" fill="url(#gbd)" filter="url(#sb)"/>
<ellipse cx="278" cy="131.5" rx="3" ry="2" fill="#1060ff" opacity="0.8" filter="url(#sh)"/>
</g>
<rect x="209" y="158.8" width="30.80000000000001" height="3.5" rx="1.2" fill="#fdc000"/>
<g clip-path="url(#cp12)">
<g filter="url(#np12)"><rect x="339.00" y="79.20" width="31.80" height="32.25" fill="rgb(140,140,140)"/><rect x="370.50" y="79.20" width="16.80" height="32.25" fill="rgb(114,114,114)"/><rect x="387.00" y="79.20" width="16.80" height="32.25" fill="rgb(114,114,114)"/><rect x="403.50" y="79.20" width="16.80" height="32.25" fill="rgb(127,127,127)"/><rect x="420.00" y="79.20" width="16.80" height="32.25" fill="rgb(140,140,140)"/><rect x="436.50" y="79.20" width="16.80" height="32.25" fill="rgb(127,127,127)"/><rect x="453.00" y="79.20" width="16.80" height="32.25" fill="rgb(114,114,114)"/><rect x="469.50" y="79.20" width="31.80" height="32.25" fill="rgb(101,101,101)"/><rect x="339.00" y="111.15" width="31.80" height="17.25" fill="rgb(114,114,114)"/><rect x="370.50" y="111.15" width="16.80" height="17.25" fill="rgb(48,48,48)"/><rect x="387.00" y="111.15" width="16.80" height="17.25" fill="rgb(35,35,35)"/><rect x="403.50" y="111.15" width="16.80" height="17.25" fill="rgb(41,41,41)"/><rect x="420.00" y="111.15" width="16.80" height="17.25" fill="rgb(55,55,55)"/><rect x="436.50" y="111.15" width="16.80" height="17.25" fill="rgb(55,55,55)"/><rect x="453.00" y="111.15" width="16.80" height="17.25" fill="rgb(48,48,48)"/><rect x="469.50" y="111.15" width="31.80" height="17.25" fill="rgb(61,61,61)"/><rect x="339.00" y="128.10" width="31.80" height="17.25" fill="rgb(114,114,114)"/><rect x="370.50" y="128.10" width="16.80" height="17.25" fill="rgb(61,61,61)"/><rect x="387.00" y="128.10" width="16.80" height="17.25" fill="rgb(41,41,41)"/><rect x="403.50" y="128.10" width="16.80" height="17.25" fill="rgb(48,48,48)"/><rect x="420.00" y="128.10" width="16.80" height="17.25" fill="rgb(48,48,48)"/><rect x="436.50" y="128.10" width="16.80" height="17.25" fill="rgb(41,41,41)"/><rect x="453.00" y="128.10" width="16.80" height="17.25" fill="rgb(41,41,41)"/><rect x="469.50" y="128.10" width="31.80" height="17.25" fill="rgb(55,55,55)"/><rect x="339.00" y="145.05" width="31.80" height="32.25" fill="rgb(140,140,140)"/><rect x="370.50" y="145.05" width="16.80" height="32.25" fill="rgb(127,127,127)"/><rect x="387.00" y="145.05" width="16.80" height="32.25" fill="rgb(101,101,101)"/><rect x="403.50" y="145.05" width="16.80" height="32.25" fill="rgb(74,74,74)"/><rect x="420.00" y="145.05" width="16.80" height="32.25" fill="rgb(48,48,48)"/><rect x="436.50" y="145.05" width="16.80" height="32.25" fill="rgb(41,41,41)"/><rect x="453.00" y="145.05" width="16.80" height="32.25" fill="rgb(55,55,55)"/><rect x="469.50" y="145.05" width="31.80" height="32.25" fill="rgb(68,68,68)"/></g>
<path d="M401.30 101.50 C401.65 100.95 402.58 100.50 403.60 100.30 C404.62 100.10 406.30 100.10 407.40 100.30 C408.50 100.50 409.42 101.30 410.20 101.50 C410.98 101.70 411.17 101.55 412.10 101.50 C413.03 101.45 414.63 101.17 415.80 101.20 C416.97 101.23 418.23 101.47 419.10 101.70 C419.97 101.93 420.28 101.82 421.00 102.60 C421.72 103.38 422.77 105.53 423.40 106.40 C424.03 107.27 424.53 107.18 424.80 107.80 C425.07 108.42 425.08 109.40 425.00 110.10 C424.92 110.80 424.10 111.22 424.30 112.00 C424.50 112.78 426.20 114.02 426.20 114.80 C426.20 115.58 425.32 116.27 424.30 116.70 C423.28 117.13 421.35 117.32 420.10 117.40 C418.85 117.48 417.82 117.47 416.80 117.20 C415.78 116.93 414.70 116.50 414.00 115.80 C413.30 115.10 412.92 114.10 412.60 113.00 C412.28 111.90 412.27 110.38 412.10 109.20 C411.93 108.02 411.92 106.65 411.60 105.90 C411.28 105.15 410.90 104.93 410.20 104.70 C409.50 104.47 408.50 104.50 407.40 104.50 C406.30 104.50 404.58 104.85 403.60 104.70 C402.62 104.55 401.88 104.13 401.50 103.60 C401.12 103.07 400.95 102.05 401.30 101.50 Z" fill="url(#gbd)" filter="url(#sb)"/>
<ellipse cx="419" cy="110.5" rx="3.2" ry="3.5" fill="#10b0ff" opacity="0.9" filter="url(#sh)"/>
<ellipse cx="417" cy="104" rx="3" ry="2" fill="#1060ff" opacity="0.8" filter="url(#sh)"/>
<path d="M418.70 105.00 C419.65 104.50 420.80 103.77 421.50 103.60 C422.20 103.43 422.58 103.62 422.90 104.00 C423.22 104.38 423.48 105.35 423.40 105.90 C423.32 106.45 422.95 106.95 422.40 107.30 C421.85 107.65 420.88 107.88 420.10 108.00 C419.32 108.12 418.65 108.07 417.70 108.00 C416.75 107.93 414.72 107.83 414.40 107.60 C414.08 107.37 415.08 107.03 415.80 106.60 C416.52 106.17 417.75 105.50 418.70 105.00 Z" fill="url(#gyr)" filter="url(#sb)"/>
<path d="M418.70 113.90 C419.25 113.52 420.48 112.82 421.50 112.50 C422.52 112.18 423.95 111.92 424.80 112.00 C425.65 112.08 426.33 112.45 426.60 113.00 C426.87 113.55 426.70 114.72 426.40 115.30 C426.10 115.88 425.62 116.27 424.80 116.50 C423.98 116.73 422.52 116.82 421.50 116.70 C420.48 116.58 419.25 116.12 418.70 115.80 C418.15 115.48 418.20 115.12 418.20 114.80 C418.20 114.48 418.15 114.28 418.70 113.90 Z" fill="url(#gyr)" filter="url(#sb)"/>
</g>
<rect x="354" y="158.8" width="31.600000000000023" height="3.5" rx="1.2" fill="#fdc000"/>
<g clip-path="url(#cp13)">
<g filter="url(#np13)"><rect x="484.00" y="79.20" width="31.68" height="32.25" fill="rgb(154,154,154)"/><rect x="515.38" y="79.20" width="16.68" height="32.25" fill="rgb(127,127,127)"/><rect x="531.75" y="79.20" width="16.68" height="32.25" fill="rgb(114,114,114)"/><rect x="548.12" y="79.20" width="16.68" height="32.25" fill="rgb(127,127,127)"/><rect x="564.50" y="79.20" width="16.68" height="32.25" fill="rgb(154,154,154)"/><rect x="580.88" y="79.20" width="16.68" height="32.25" fill="rgb(167,167,167)"/><rect x="597.25" y="79.20" width="16.68" height="32.25" fill="rgb(140,140,140)"/><rect x="613.62" y="79.20" width="31.68" height="32.25" fill="rgb(114,114,114)"/><rect x="484.00" y="111.15" width="31.68" height="17.25" fill="rgb(140,140,140)"/><rect x="515.38" y="111.15" width="16.68" height="17.25" fill="rgb(74,74,74)"/><rect x="531.75" y="111.15" width="16.68" height="17.25" fill="rgb(68,68,68)"/><rect x="548.12" y="111.15" width="16.68" height="17.25" fill="rgb(88,88,88)"/><rect x="564.50" y="111.15" width="16.68" height="17.25" fill="rgb(127,127,127)"/><rect x="580.88" y="111.15" width="16.68" height="17.25" fill="rgb(154,154,154)"/><rect x="597.25" y="111.15" width="16.68" height="17.25" fill="rgb(127,127,127)"/><rect x="613.62" y="111.15" width="31.68" height="17.25" fill="rgb(101,101,101)"/><rect x="484.00" y="128.10" width="31.68" height="17.25" fill="rgb(127,127,127)"/><rect x="515.38" y="128.10" width="16.68" height="17.25" fill="rgb(55,55,55)"/><rect x="531.75" y="128.10" width="16.68" height="17.25" fill="rgb(41,41,41)"/><rect x="548.12" y="128.10" width="16.68" height="17.25" fill="rgb(41,41,41)"/><rect x="564.50" y="128.10" width="16.68" height="17.25" fill="rgb(55,55,55)"/><rect x="580.88" y="128.10" width="16.68" height="17.25" fill="rgb(68,68,68)"/><rect x="597.25" y="128.10" width="16.68" height="17.25" fill="rgb(74,74,74)"/><rect x="613.62" y="128.10" width="31.68" height="17.25" fill="rgb(88,88,88)"/><rect x="484.00" y="145.05" width="31.68" height="32.25" fill="rgb(140,140,140)"/><rect x="515.38" y="145.05" width="16.68" height="32.25" fill="rgb(101,101,101)"/><rect x="531.75" y="145.05" width="16.68" height="32.25" fill="rgb(68,68,68)"/><rect x="548.12" y="145.05" width="16.68" height="32.25" fill="rgb(48,48,48)"/><rect x="564.50" y="145.05" width="16.68" height="32.25" fill="rgb(48,48,48)"/><rect x="580.88" y="145.05" width="16.68" height="32.25" fill="rgb(61,61,61)"/><rect x="597.25" y="145.05" width="16.68" height="32.25" fill="rgb(74,74,74)"/><rect x="613.62" y="145.05" width="31.68" height="32.25" fill="rgb(88,88,88)"/></g>
<path d="M555.4 90 L574 90 L574 95 Q572 97.4 565 97.4 Q557 97.4 555.4 95 Z" fill="url(#gr)" filter="url(#sb)"/>
<ellipse cx="575" cy="94.3" rx="1.2" ry="0.8" fill="url(#gbd)" filter="url(#sb)"/>
<ellipse cx="587.1" cy="95" rx="5.4" ry="4.8" fill="url(#gr)" filter="url(#sb)"/>
<rect x="543.1" y="110.8" width="18" height="5" rx="2.5" fill="url(#gb)" filter="url(#sb)"/>
<ellipse cx="555" cy="114" rx="3" ry="1.5" fill="#30e0ff" opacity="0.9" filter="url(#sh)"/>
<ellipse cx="555.2" cy="117.2" rx="6" ry="2.9" fill="url(#gr)" filter="url(#sb)"/>
<ellipse cx="553.5" cy="115.8" rx="2.5" ry="1.4" fill="#ffc000" opacity="1" filter="url(#sh)"/>
<rect x="555" y="120" width="9" height="3" rx="1.5" fill="url(#gbd)" filter="url(#sb)"/>
<path d="M602.69 106.37 C603.19 105.47 604.99 104.77 606.29 104.57 C607.58 104.38 609.52 104.57 610.48 105.17 C611.44 105.77 611.94 107.17 612.04 108.17 C612.14 109.17 610.64 110.26 611.08 111.16 C611.52 112.06 613.57 112.76 614.67 113.56 C615.77 114.36 617.07 114.85 617.66 115.95 C618.26 117.05 617.76 119.05 618.26 120.14 C618.76 121.24 619.82 121.74 620.66 122.54 C621.50 123.34 622.99 124.04 623.29 124.93 C623.59 125.83 623.19 127.33 622.46 127.93 C621.72 128.53 620.06 128.73 618.86 128.53 C617.66 128.33 616.47 127.43 615.27 126.73 C614.07 126.03 613.17 125.13 611.68 124.34 C610.18 123.54 607.49 122.84 606.29 121.94 C605.09 121.04 604.79 120.04 604.49 118.95 C604.19 117.85 604.19 116.45 604.49 115.35 C604.79 114.26 606.49 113.26 606.29 112.36 C606.09 111.46 603.89 110.96 603.29 109.96 C602.69 108.97 602.20 107.27 602.69 106.37 Z" fill="url(#gr)" filter="url(#sb)"/>
<ellipse cx="630" cy="153.2" rx="4" ry="2.8" fill="url(#gbd)" filter="url(#sb)"/>
</g>
<rect x="499" y="158.8" width="28.200000000000045" height="3.5" rx="1.2" fill="#fdc000"/>
<g clip-path="url(#cp20)">
<g filter="url(#np20)"><rect x="46.00" y="153.00" width="31.80" height="31.97" fill="rgb(130,130,130)"/><rect x="77.50" y="153.00" width="16.80" height="31.97" fill="rgb(117,117,117)"/><rect x="94.00" y="153.00" width="16.80" height="31.97" fill="rgb(103,103,103)"/><rect x="110.50" y="153.00" width="16.80" height="31.97" fill="rgb(103,103,103)"/><rect x="127.00" y="153.00" width="16.80" height="31.97" fill="rgb(117,117,117)"/><rect x="143.50" y="153.00" width="16.80" height="31.97" fill="rgb(117,117,117)"/><rect x="160.00" y="153.00" width="16.80" height="31.97" fill="rgb(130,130,130)"/><rect x="176.50" y="153.00" width="31.80" height="31.97" fill="rgb(117,117,117)"/><rect x="46.00" y="184.68" width="31.80" height="16.97" fill="rgb(117,117,117)"/><rect x="77.50" y="184.68" width="16.80" height="16.97" fill="rgb(64,64,64)"/><rect x="94.00" y="184.68" width="16.80" height="16.97" fill="rgb(51,51,51)"/><rect x="110.50" y="184.68" width="16.80" height="16.97" fill="rgb(57,57,57)"/><rect x="127.00" y="184.68" width="16.80" height="16.97" fill="rgb(64,64,64)"/><rect x="143.50" y="184.68" width="16.80" height="16.97" fill="rgb(70,70,70)"/><rect x="160.00" y="184.68" width="16.80" height="16.97" fill="rgb(77,77,77)"/><rect x="176.50" y="184.68" width="31.80" height="16.97" fill="rgb(77,77,77)"/><rect x="46.00" y="201.35" width="31.80" height="16.97" fill="rgb(77,77,77)"/><rect x="77.50" y="201.35" width="16.80" height="16.97" fill="rgb(44,44,44)"/><rect x="94.00" y="201.35" width="16.80" height="16.97" fill="rgb(37,37,37)"/><rect x="110.50" y="201.35" width="16.80" height="16.97" fill="rgb(44,44,44)"/><rect x="127.00" y="201.35" width="16.80" height="16.97" fill="rgb(51,51,51)"/><rect x="143.50" y="201.35" width="16.80" height="16.97" fill="rgb(64,64,64)"/><rect x="160.00" y="201.35" width="16.80" height="16.97" fill="rgb(64,64,64)"/><rect x="176.50" y="201.35" width="31.80" height="16.97" fill="rgb(64,64,64)"/><rect x="46.00" y="218.02" width="31.80" height="31.97" fill="rgb(64,64,64)"/><rect x="77.50" y="218.02" width="16.80" height="31.97" fill="rgb(37,37,37)"/><rect x="94.00" y="218.02" width="16.80" height="31.97" fill="rgb(31,31,31)"/><rect x="110.50" y="218.02" width="16.80" height="31.97" fill="rgb(31,31,31)"/><rect x="127.00" y="218.02" width="16.80" height="31.97" fill="rgb(37,37,37)"/><rect x="143.50" y="218.02" width="16.80" height="31.97" fill="rgb(51,51,51)"/><rect x="160.00" y="218.02" width="16.80" height="31.97" fill="rgb(37,37,37)"/><rect x="176.50" y="218.02" width="31.80" height="31.97" fill="rgb(24,24,24)"/></g>
<ellipse cx="67" cy="168" rx="5" ry="2.7" fill="url(#gbd)" filter="url(#sb)"/>
<path d="M77.52 173.75 C77.96 173.13 78.64 172.91 80.21 172.74 C81.78 172.57 85.37 172.46 86.94 172.74 C88.51 173.02 88.96 173.75 89.63 174.42 C90.30 175.09 90.97 176.05 90.97 176.78 C90.97 177.51 90.30 178.23 89.63 178.80 C88.96 179.36 87.50 179.30 86.94 180.14 C86.38 180.98 86.71 182.66 86.26 183.84 C85.82 185.02 85.25 186.37 84.24 187.21 C83.24 188.05 81.78 188.55 80.21 188.89 C78.64 189.23 76.28 189.51 74.82 189.23 C73.37 188.95 72.13 188.10 71.46 187.21 C70.79 186.31 70.79 184.85 70.79 183.84 C70.79 182.83 70.90 181.77 71.46 181.15 C72.02 180.53 73.25 180.48 74.15 180.14 C75.05 179.80 76.28 179.75 76.84 179.13 C77.40 178.52 77.40 177.34 77.52 176.44 C77.63 175.54 77.07 174.37 77.52 173.75 Z" fill="url(#gr)" filter="url(#sb)"/>
<rect x="69.1" y="189" width="6.7" height="3.5" rx="1.5" fill="url(#gr)" filter="url(#sb)"/>
<rect x="133.5" y="160" width="13.5" height="16" rx="6" fill="url(#gbd)" filter="url(#sb)"/>
<rect x="148.2" y="172" width="1.8" height="2.8" rx="0.5" fill="url(#gbd)" filter="url(#sb)"/>
<ellipse cx="155.5" cy="172.2" rx="5.8" ry="4" fill="url(#gr)" transform="rotate(-10 155.5 172.2)" filter="url(#sb)"/>
<rect x="124.9" y="195.6" width="12.7" height="7.4" rx="3.5" fill="url(#gbd)" filter="url(#sb)"/>
</g>
<rect x="61" y="231.5" width="34.3" height="3.5" rx="1.2" fill="#fdc000"/>
<g clip-path="url(#cp21)">
<g filter="url(#np21)"><rect x="194.00" y="153.00" width="31.80" height="31.97" fill="rgb(107,107,107)"/><rect x="225.50" y="153.00" width="16.80" height="31.97" fill="rgb(68,68,68)"/><rect x="242.00" y="153.00" width="16.80" height="31.97" fill="rgb(48,48,48)"/><rect x="258.50" y="153.00" width="16.80" height="31.97" fill="rgb(41,41,41)"/><rect x="275.00" y="153.00" width="16.80" height="31.97" fill="rgb(41,41,41)"/><rect x="291.50" y="153.00" width="16.80" height="31.97" fill="rgb(55,55,55)"/><rect x="308.00" y="153.00" width="16.80" height="31.97" fill="rgb(74,74,74)"/><rect x="324.50" y="153.00" width="31.80" height="31.97" fill="rgb(114,114,114)"/><rect x="194.00" y="184.68" width="31.80" height="16.97" fill="rgb(134,134,134)"/><rect x="225.50" y="184.68" width="16.80" height="16.97" fill="rgb(81,81,81)"/><rect x="242.00" y="184.68" width="16.80" height="16.97" fill="rgb(51,51,51)"/><rect x="258.50" y="184.68" width="16.80" height="16.97" fill="rgb(35,35,35)"/><rect x="275.00" y="184.68" width="16.80" height="16.97" fill="rgb(37,37,37)"/><rect x="291.50" y="184.68" width="16.80" height="16.97" fill="rgb(55,55,55)"/><rect x="308.00" y="184.68" width="16.80" height="16.97" fill="rgb(68,68,68)"/><rect x="324.50" y="184.68" width="31.80" height="16.97" fill="rgb(81,81,81)"/><rect x="194.00" y="201.35" width="31.80" height="16.97" fill="rgb(140,140,140)"/><rect x="225.50" y="201.35" width="16.80" height="16.97" fill="rgb(94,94,94)"/><rect x="242.00" y="201.35" width="16.80" height="16.97" fill="rgb(61,61,61)"/><rect x="258.50" y="201.35" width="16.80" height="16.97" fill="rgb(48,48,48)"/><rect x="275.00" y="201.35" width="16.80" height="16.97" fill="rgb(48,48,48)"/><rect x="291.50" y="201.35" width="16.80" height="16.97" fill="rgb(61,61,61)"/><rect x="308.00" y="201.35" width="16.80" height="16.97" fill="rgb(74,74,74)"/><rect x="324.50" y="201.35" width="31.80" height="16.97" fill="rgb(81,81,81)"/><rect x="194.00" y="218.02" width="31.80" height="31.97" fill="rgb(134,134,134)"/><rect x="225.50" y="218.02" width="16.80" height="31.97" fill="rgb(101,101,101)"/><rect x="242.00" y="218.02" width="16.80" height="31.97" fill="rgb(77,77,77)"/><rect x="258.50" y="218.02" width="16.80" height="31.97" fill="rgb(68,68,68)"/><rect x="275.00" y="218.02" width="16.80" height="31.97" fill="rgb(68,68,68)"/><rect x="291.50" y="218.02" width="16.80" height="31.97" fill="rgb(74,74,74)"/><rect x="308.00" y="218.02" width="16.80" height="31.97" fill="rgb(77,77,77)"/><rect x="324.50" y="218.02" width="31.80" height="31.97" fill="rgb(77,77,77)"/></g>
</g>
<rect x="209" y="231.5" width="36.900000000000006" height="3.5" rx="1.2" fill="#fdc000"/>
<g clip-path="url(#cp22)">
<g filter="url(#np22)"><rect x="339.00" y="153.00" width="31.80" height="31.97" fill="rgb(111,111,111)"/><rect x="370.50" y="153.00" width="16.80" height="31.97" fill="rgb(85,85,85)"/><rect x="387.00" y="153.00" width="16.80" height="31.97" fill="rgb(72,72,72)"/><rect x="403.50" y="153.00" width="16.80" height="31.97" fill="rgb(85,85,85)"/><rect x="420.00" y="153.00" width="16.80" height="31.97" fill="rgb(85,85,85)"/><rect x="436.50" y="153.00" width="16.80" height="31.97" fill="rgb(78,78,78)"/><rect x="453.00" y="153.00" width="16.80" height="31.97" fill="rgb(85,85,85)"/><rect x="469.50" y="153.00" width="31.80" height="31.97" fill="rgb(98,98,98)"/><rect x="339.00" y="184.68" width="31.80" height="16.97" fill="rgb(98,98,98)"/><rect x="370.50" y="184.68" width="16.80" height="16.97" fill="rgb(72,72,72)"/><rect x="387.00" y="184.68" width="16.80" height="16.97" fill="rgb(65,65,65)"/><rect x="403.50" y="184.68" width="16.80" height="16.97" fill="rgb(72,72,72)"/><rect x="420.00" y="184.68" width="16.80" height="16.97" fill="rgb(78,78,78)"/><rect x="436.50" y="184.68" width="16.80" height="16.97" fill="rgb(72,72,72)"/><rect x="453.00" y="184.68" width="16.80" height="16.97" fill="rgb(72,72,72)"/><rect x="469.50" y="184.68" width="31.80" height="16.97" fill="rgb(85,85,85)"/><rect x="339.00" y="201.35" width="31.80" height="16.97" fill="rgb(124,124,124)"/><rect x="370.50" y="201.35" width="16.80" height="16.97" fill="rgb(98,98,98)"/><rect x="387.00" y="201.35" width="16.80" height="16.97" fill="rgb(78,78,78)"/><rect x="403.50" y="201.35" width="16.80" height="16.97" fill="rgb(78,78,78)"/><rect x="420.00" y="201.35" width="16.80" height="16.97" fill="rgb(78,78,78)"/><rect x="436.50" y="201.35" width="16.80" height="16.97" fill="rgb(72,72,72)"/><rect x="453.00" y="201.35" width="16.80" height="16.97" fill="rgb(72,72,72)"/><rect x="469.50" y="201.35" width="31.80" height="16.97" fill="rgb(78,78,78)"/><rect x="339.00" y="218.02" width="31.80" height="31.97" fill="rgb(98,98,98)"/><rect x="370.50" y="218.02" width="16.80" height="31.97" fill="rgb(85,85,85)"/><rect x="387.00" y="218.02" width="16.80" height="31.97" fill="rgb(78,78,78)"/><rect x="403.50" y="218.02" width="16.80" height="31.97" fill="rgb(78,78,78)"/><rect x="420.00" y="218.02" width="16.80" height="31.97" fill="rgb(72,72,72)"/><rect x="436.50" y="218.02" width="16.80" height="31.97" fill="rgb(72,72,72)"/><rect x="453.00" y="218.02" width="16.80" height="31.97" fill="rgb(72,72,72)"/><rect x="469.50" y="218.02" width="31.80" height="31.97" fill="rgb(72,72,72)"/></g>
</g>
<rect x="352" y="231.5" width="38.30000000000001" height="3.5" rx="1.2" fill="#fdc000"/>
<g clip-path="url(#cp23)">
<g filter="url(#np23)"><rect x="484.00" y="153.00" width="31.68" height="31.97" fill="rgb(61,61,61)"/><rect x="515.38" y="153.00" width="16.68" height="31.97" fill="rgb(48,48,48)"/><rect x="531.75" y="153.00" width="16.68" height="31.97" fill="rgb(55,55,55)"/><rect x="548.12" y="153.00" width="16.68" height="31.97" fill="rgb(81,81,81)"/><rect x="564.50" y="153.00" width="16.68" height="31.97" fill="rgb(74,74,74)"/><rect x="580.88" y="153.00" width="16.68" height="31.97" fill="rgb(48,48,48)"/><rect x="597.25" y="153.00" width="16.68" height="31.97" fill="rgb(35,35,35)"/><rect x="613.62" y="153.00" width="31.68" height="31.97" fill="rgb(41,41,41)"/><rect x="484.00" y="184.68" width="31.68" height="16.97" fill="rgb(74,74,74)"/><rect x="515.38" y="184.68" width="16.68" height="16.97" fill="rgb(61,61,61)"/><rect x="531.75" y="184.68" width="16.68" height="16.97" fill="rgb(55,55,55)"/><rect x="548.12" y="184.68" width="16.68" height="16.97" fill="rgb(61,61,61)"/><rect x="564.50" y="184.68" width="16.68" height="16.97" fill="rgb(55,55,55)"/><rect x="580.88" y="184.68" width="16.68" height="16.97" fill="rgb(37,37,37)"/><rect x="597.25" y="184.68" width="16.68" height="16.97" fill="rgb(32,32,32)"/><rect x="613.62" y="184.68" width="31.68" height="16.97" fill="rgb(32,32,32)"/><rect x="484.00" y="201.35" width="31.68" height="16.97" fill="rgb(101,101,101)"/><rect x="515.38" y="201.35" width="16.68" height="16.97" fill="rgb(81,81,81)"/><rect x="531.75" y="201.35" width="16.68" height="16.97" fill="rgb(61,61,61)"/><rect x="548.12" y="201.35" width="16.68" height="16.97" fill="rgb(48,48,48)"/><rect x="564.50" y="201.35" width="16.68" height="16.97" fill="rgb(35,35,35)"/><rect x="580.88" y="201.35" width="16.68" height="16.97" fill="rgb(32,32,32)"/><rect x="597.25" y="201.35" width="16.68" height="16.97" fill="rgb(32,32,32)"/><rect x="613.62" y="201.35" width="31.68" height="16.97" fill="rgb(32,32,32)"/><rect x="484.00" y="218.02" width="31.68" height="31.97" fill="rgb(114,114,114)"/><rect x="515.38" y="218.02" width="16.68" height="31.97" fill="rgb(94,94,94)"/><rect x="531.75" y="218.02" width="16.68" height="31.97" fill="rgb(61,61,61)"/><rect x="548.12" y="218.02" width="16.68" height="31.97" fill="rgb(41,41,41)"/><rect x="564.50" y="218.02" width="16.68" height="31.97" fill="rgb(28,28,28)"/><rect x="580.88" y="218.02" width="16.68" height="31.97" fill="rgb(28,28,28)"/><rect x="597.25" y="218.02" width="16.68" height="31.97" fill="rgb(28,28,28)"/><rect x="613.62" y="218.02" width="31.68" height="31.97" fill="rgb(35,35,35)"/></g>
</g>
<rect x="499" y="231.5" width="39.700000000000045" height="3.5" rx="1.2" fill="#fdc000"/>
<text x="126.6" y="13.7" font-size="18" font-weight="normal" text-anchor="middle" >0h</text>
<text x="269.6" y="13.7" font-size="18" font-weight="normal" text-anchor="middle" >2h</text>
<text x="422.6" y="13.7" font-size="18" font-weight="normal" text-anchor="middle" >4h</text>
<text x="577.7" y="13.7" font-size="18" font-weight="normal" text-anchor="middle" >6h</text>
<text x="-1" y="59" font-size="18" font-weight="normal" text-anchor="start" >Normal</text>
<text x="13" y="135.1" font-size="18" font-weight="normal" text-anchor="start" >180°</text>
<text x="12" y="212.6" font-size="18" font-weight="normal" text-anchor="start" >360°</text>
<text x="328.7" y="261.2" font-size="19" font-weight="normal" text-anchor="middle" >(a)</text>
<rect x="636" y="22" width="4.5" height="97" fill="url(#gray)"/>
<rect x="636" y="132" width="4.5" height="102" fill="url(#spd)"/>
<text x="658.4" y="27.9" font-size="11" font-weight="normal" text-anchor="middle" >Max</text>
<text x="658.2" y="119.8" font-size="11" font-weight="normal" text-anchor="middle" >Min</text>
<text transform="translate(659.5,69) rotate(90)" font-size="10.5" text-anchor="middle">US intensity</text>
<text transform="translate(647,68.3) rotate(90)" font-size="10.5" text-anchor="middle">(a.u.)</text>
<text x="643.3" y="143.7" font-size="10.4" font-weight="normal" text-anchor="start" >48mm/s</text>
<text x="642.6" y="228.2" font-size="10.4" font-weight="normal" text-anchor="start" >-48mm/s</text>
<text transform="translate(655.5,179) rotate(90)" font-size="12" text-anchor="middle">Speed</text>
<path d="M57 283.7 V425 H226.3" fill="none" stroke="#111" stroke-width="1.7"/>
<line x1="51.5" y1="283.8" x2="57" y2="283.8" stroke="#111" stroke-width="1.5"/>
<text x="49.8" y="288.1" font-size="11.8" font-weight="bold" text-anchor="end">0.3</text>
<line x1="51.5" y1="324.2" x2="57" y2="324.2" stroke="#111" stroke-width="1.5"/>
<text x="49.8" y="328.5" font-size="11.8" font-weight="bold" text-anchor="end">0.2</text>
<line x1="51.5" y1="364.6" x2="57" y2="364.6" stroke="#111" stroke-width="1.5"/>
<text x="49.8" y="368.90000000000003" font-size="11.8" font-weight="bold" text-anchor="end">0.1</text>
<line x1="51.5" y1="405.0" x2="57" y2="405.0" stroke="#111" stroke-width="1.5"/>
<text x="49.8" y="409.3" font-size="11.8" font-weight="bold" text-anchor="end">0.0</text>
<line x1="82.6" y1="425" x2="82.6" y2="430" stroke="#111" stroke-width="1.5"/>
<text x="82.6" y="443.6" font-size="11.8" font-weight="bold" text-anchor="middle">0h</text>
<line x1="121.4" y1="425" x2="121.4" y2="430" stroke="#111" stroke-width="1.5"/>
<text x="121.4" y="443.6" font-size="11.8" font-weight="bold" text-anchor="middle">2h</text>
<line x1="160.4" y1="425" x2="160.4" y2="430" stroke="#111" stroke-width="1.5"/>
<text x="160.4" y="443.6" font-size="11.8" font-weight="bold" text-anchor="middle">4h</text>
<line x1="199.5" y1="425" x2="199.5" y2="430" stroke="#111" stroke-width="1.5"/>
<text x="199.5" y="443.6" font-size="11.8" font-weight="bold" text-anchor="middle">6h</text>
<text x="142" y="461.3" font-size="14" font-weight="bold" text-anchor="middle">Time (h)</text>
<text x="139.3" y="487" font-size="19.5" text-anchor="middle">(b)</text>
<text transform="translate(23.3,344.7) rotate(-90)" font-size="12.3" font-weight="bold" text-anchor="middle">CPD Velocity (cm/s)</text>
<polyline points="82.6,350 121.4,367.2 160.4,366.5 199.5,367.7" fill="none" stroke="#12851a" stroke-width="1.6"/>
<path d="M82.6 324.3 V375.3 M80.19999999999999 324.3 H85.0 M80.19999999999999 375.3 H85.0" stroke="#12851a" stroke-width="1.5" fill="none"/>
<circle cx="82.6" cy="350" r="2.3" fill="#12851a"/>
<path d="M121.4 345.3 V389.1 M119.0 345.3 H123.80000000000001 M119.0 389.1 H123.80000000000001" stroke="#12851a" stroke-width="1.5" fill="none"/>
<circle cx="121.4" cy="367.2" r="2.3" fill="#12851a"/>
<path d="M160.4 348.2 V385.2 M158.0 348.2 H162.8 M158.0 385.2 H162.8" stroke="#12851a" stroke-width="1.5" fill="none"/>
<circle cx="160.4" cy="366.5" r="2.3" fill="#12851a"/>
<path d="M199.5 346.8 V388.4 M197.1 346.8 H201.9 M197.1 388.4 H201.9" stroke="#12851a" stroke-width="1.5" fill="none"/>
<circle cx="199.5" cy="367.7" r="2.3" fill="#12851a"/>
<line x1="158.8" y1="286.1" x2="181.5" y2="286.1" stroke="#12851a" stroke-width="1.6"/>
<circle cx="170.4" cy="286.1" r="2.3" fill="#12851a"/>
<text x="184.5" y="290" font-size="10" font-weight="bold">Normal</text>
<path d="M286.8 283.7 V425 H456.1" fill="none" stroke="#111" stroke-width="1.7"/>
<line x1="281.3" y1="283.8" x2="286.8" y2="283.8" stroke="#111" stroke-width="1.5"/>
<text x="279.6" y="288.1" font-size="11.8" font-weight="bold" text-anchor="end">0.3</text>
<line x1="281.3" y1="324.2" x2="286.8" y2="324.2" stroke="#111" stroke-width="1.5"/>
<text x="279.6" y="328.5" font-size="11.8" font-weight="bold" text-anchor="end">0.2</text>
<line x1="281.3" y1="364.6" x2="286.8" y2="364.6" stroke="#111" stroke-width="1.5"/>
<text x="279.6" y="368.90000000000003" font-size="11.8" font-weight="bold" text-anchor="end">0.1</text>
<line x1="281.3" y1="405.0" x2="286.8" y2="405.0" stroke="#111" stroke-width="1.5"/>
<text x="279.6" y="409.3" font-size="11.8" font-weight="bold" text-anchor="end">0.0</text>
<line x1="313.3" y1="425" x2="313.3" y2="430" stroke="#111" stroke-width="1.5"/>
<text x="313.3" y="443.6" font-size="11.8" font-weight="bold" text-anchor="middle">0h</text>
<line x1="352.1" y1="425" x2="352.1" y2="430" stroke="#111" stroke-width="1.5"/>
<text x="352.1" y="443.6" font-size="11.8" font-weight="bold" text-anchor="middle">2h</text>
<line x1="391.4" y1="425" x2="391.4" y2="430" stroke="#111" stroke-width="1.5"/>
<text x="391.4" y="443.6" font-size="11.8" font-weight="bold" text-anchor="middle">4h</text>
<line x1="430" y1="425" x2="430" y2="430" stroke="#111" stroke-width="1.5"/>
<text x="430" y="443.6" font-size="11.8" font-weight="bold" text-anchor="middle">6h</text>
<text x="373.5" y="461.3" font-size="14" font-weight="bold" text-anchor="middle">Time (h)</text>
<text x="375.5" y="487" font-size="19.5" text-anchor="middle">(c)</text>
<text transform="translate(252.7,346.7) rotate(-90)" font-size="12.3" font-weight="bold" text-anchor="middle">CPD Velocity (cm/s)</text>
<polyline points="313.3,343.3 352.1,381 391.4,382.6 430,387.3" fill="none" stroke="#2a8fca" stroke-width="1.6"/>
<path d="M313.3 320.6 V365.8 M310.90000000000003 320.6 H315.7 M310.90000000000003 365.8 H315.7" stroke="#2a8fca" stroke-width="1.5" fill="none"/>
<circle cx="313.3" cy="343.3" r="2.3" fill="#2a8fca"/>
<path d="M352.1 372.4 V389.8 M349.70000000000005 372.4 H354.5 M349.70000000000005 389.8 H354.5" stroke="#2a8fca" stroke-width="1.5" fill="none"/>
<circle cx="352.1" cy="381" r="2.3" fill="#2a8fca"/>
<path d="M391.4 371.3 V393.8 M389.0 371.3 H393.79999999999995 M389.0 393.8 H393.79999999999995" stroke="#2a8fca" stroke-width="1.5" fill="none"/>
<circle cx="391.4" cy="382.6" r="2.3" fill="#2a8fca"/>
<path d="M430 378.5 V395.9 M427.6 378.5 H432.4 M427.6 395.9 H432.4" stroke="#2a8fca" stroke-width="1.5" fill="none"/>
<circle cx="430" cy="387.3" r="2.3" fill="#2a8fca"/>
<path d="M352.85 363.7 l0 -2.7 M352.85 363.7 l-2.9 -0.9 M352.85 363.7 l2.9 -0.9 M352.85 363.7 l-1.7 2.2 M352.85 363.7 l1.7 2.2" stroke="#000" stroke-width="1.35" stroke-linecap="round" fill="none"/>
<path d="M391.75 360.6 l0 -2.7 M391.75 360.6 l-2.9 -0.9 M391.75 360.6 l2.9 -0.9 M391.75 360.6 l-1.7 2.2 M391.75 360.6 l1.7 2.2" stroke="#000" stroke-width="1.35" stroke-linecap="round" fill="none"/>
<path d="M430.4 366.4 l0 -2.7 M430.4 366.4 l-2.9 -0.9 M430.4 366.4 l2.9 -0.9 M430.4 366.4 l-1.7 2.2 M430.4 366.4 l1.7 2.2" stroke="#000" stroke-width="1.35" stroke-linecap="round" fill="none"/>
<line x1="405" y1="286.1" x2="427.7" y2="286.1" stroke="#2a8fca" stroke-width="1.6"/>
<circle cx="416.3" cy="286.1" r="2.3" fill="#2a8fca"/>
<text x="429.8" y="290" font-size="10" font-weight="bold">180°</text>
<path d="M515.3 283.7 V425 H685" fill="none" stroke="#111" stroke-width="1.7"/>
<line x1="509.79999999999995" y1="283.8" x2="515.3" y2="283.8" stroke="#111" stroke-width="1.5"/>
<text x="508.09999999999997" y="288.1" font-size="11.8" font-weight="bold" text-anchor="end">0.3</text>
<line x1="509.79999999999995" y1="324.2" x2="515.3" y2="324.2" stroke="#111" stroke-width="1.5"/>
<text x="508.09999999999997" y="328.5" font-size="11.8" font-weight="bold" text-anchor="end">0.2</text>
<line x1="509.79999999999995" y1="364.6" x2="515.3" y2="364.6" stroke="#111" stroke-width="1.5"/>
<text x="508.09999999999997" y="368.90000000000003" font-size="11.8" font-weight="bold" text-anchor="end">0.1</text>
<line x1="509.79999999999995" y1="405.0" x2="515.3" y2="405.0" stroke="#111" stroke-width="1.5"/>
<text x="508.09999999999997" y="409.3" font-size="11.8" font-weight="bold" text-anchor="end">0.0</text>
<line x1="540.8" y1="425" x2="540.8" y2="430" stroke="#111" stroke-width="1.5"/>
<text x="540.8" y="443.6" font-size="11.8" font-weight="bold" text-anchor="middle">0h</text>
<line x1="580" y1="425" x2="580" y2="430" stroke="#111" stroke-width="1.5"/>
<text x="580" y="443.6" font-size="11.8" font-weight="bold" text-anchor="middle">2h</text>
<line x1="619" y1="425" x2="619" y2="430" stroke="#111" stroke-width="1.5"/>
<text x="619" y="443.6" font-size="11.8" font-weight="bold" text-anchor="middle">4h</text>
<line x1="657.9" y1="425" x2="657.9" y2="430" stroke="#111" stroke-width="1.5"/>
<text x="657.9" y="443.6" font-size="11.8" font-weight="bold" text-anchor="middle">6h</text>
<text x="602.4" y="461.3" font-size="14" font-weight="bold" text-anchor="middle">Time (h)</text>
<text x="604.1" y="487" font-size="19.5" text-anchor="middle">(d)</text>
<text transform="translate(481.7,346.7) rotate(-90)" font-size="12.3" font-weight="bold" text-anchor="middle">CPD Velocity (cm/s)</text>
<polyline points="540.8,345.2 580,404.9 619,404.9 657.9,404.9" fill="none" stroke="#8585c8" stroke-width="1.6"/>
<path d="M540.8 322.8 V367.2 M538.4 322.8 H543.1999999999999 M538.4 367.2 H543.1999999999999" stroke="#8585c8" stroke-width="1.5" fill="none"/>
<circle cx="540.8" cy="345.2" r="2.3" fill="#8585c8"/>
<circle cx="580" cy="404.9" r="2.3" fill="#8585c8"/>
<circle cx="619" cy="404.9" r="2.3" fill="#8585c8"/>
<circle cx="657.9" cy="404.9" r="2.3" fill="#8585c8"/>
<path d="M580.1 391.9 l0 -2.7 M580.1 391.9 l-2.9 -0.9 M580.1 391.9 l2.9 -0.9 M580.1 391.9 l-1.7 2.2 M580.1 391.9 l1.7 2.2" stroke="#000" stroke-width="1.35" stroke-linecap="round" fill="none"/>
<path d="M619.2 391.9 l0 -2.7 M619.2 391.9 l-2.9 -0.9 M619.2 391.9 l2.9 -0.9 M619.2 391.9 l-1.7 2.2 M619.2 391.9 l1.7 2.2" stroke="#000" stroke-width="1.35" stroke-linecap="round" fill="none"/>
<path d="M658.2 391.9 l0 -2.7 M658.2 391.9 l-2.9 -0.9 M658.2 391.9 l2.9 -0.9 M658.2 391.9 l-1.7 2.2 M658.2 391.9 l1.7 2.2" stroke="#000" stroke-width="1.35" stroke-linecap="round" fill="none"/>
<line x1="634" y1="286.1" x2="656.5" y2="286.1" stroke="#8585c8" stroke-width="1.6"/>
<circle cx="645.1" cy="286.1" r="2.3" fill="#8585c8"/>
<text x="660.3" y="290" font-size="10" font-weight="bold">360°</text>
</svg>
</body></html>
